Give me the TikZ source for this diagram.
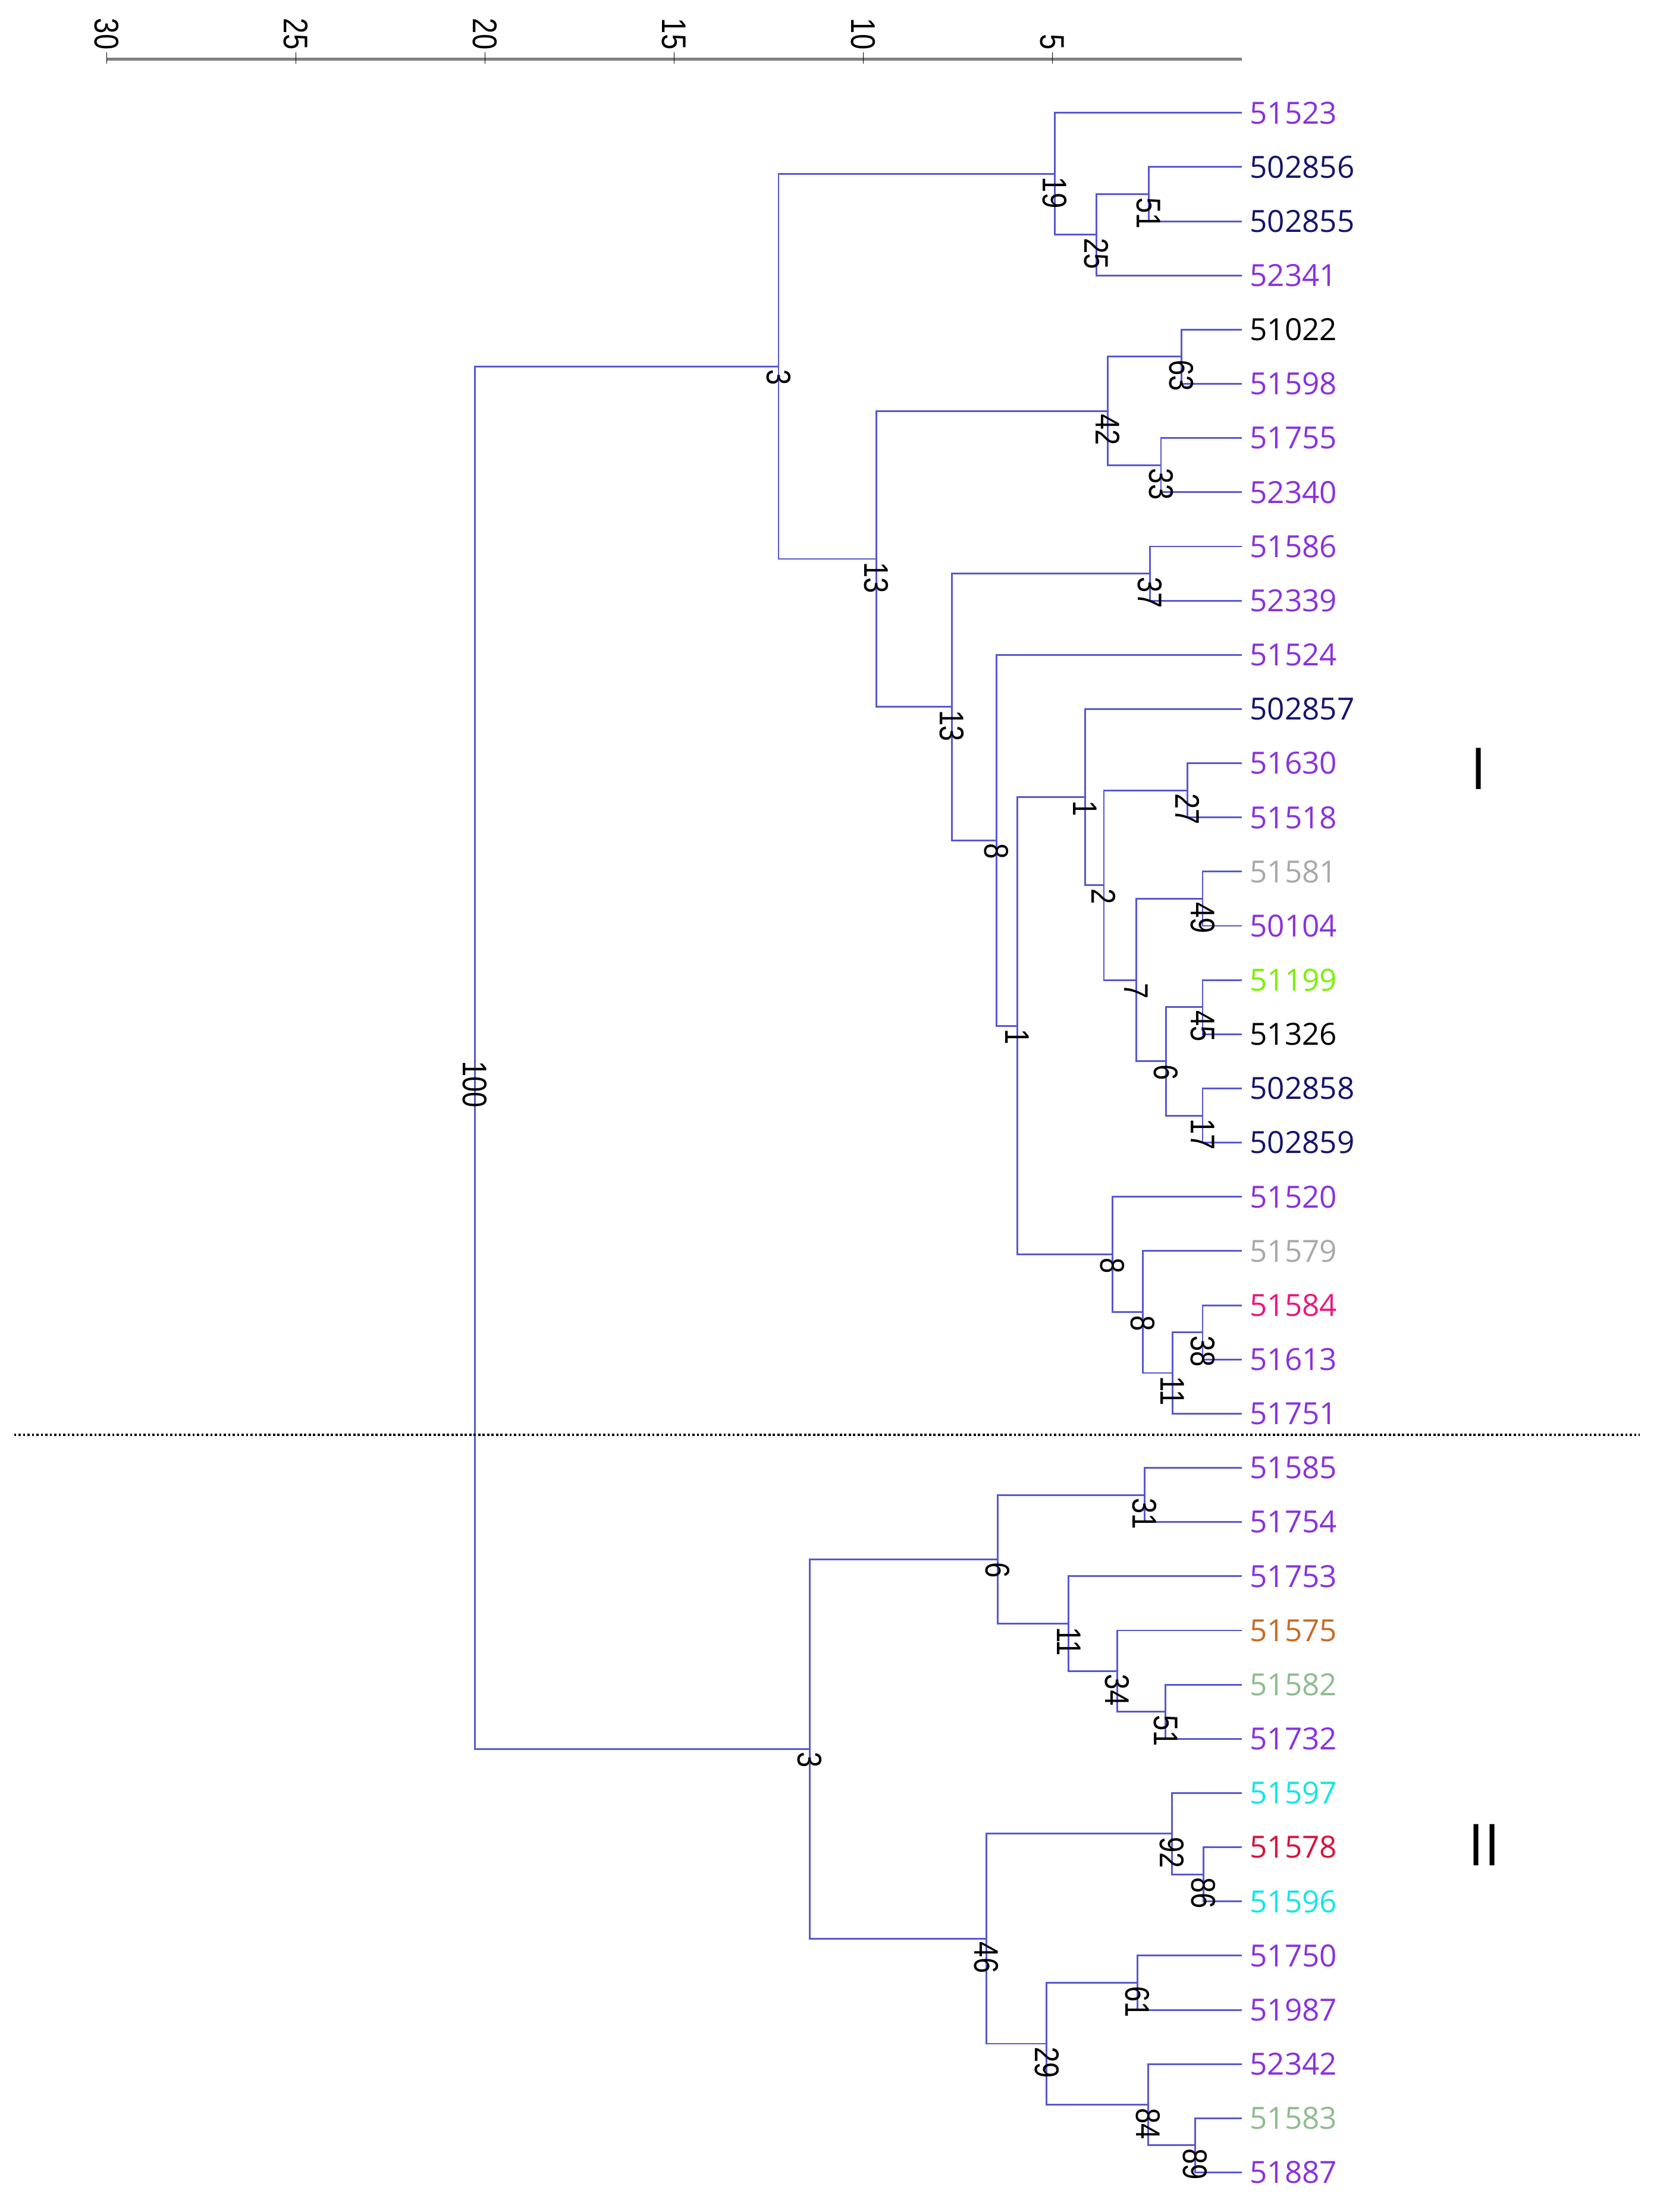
\documentclass[tikz,border=0pt]{standalone}
\usepackage{fontspec}
\setmainfont{Open Sans}
\newfontfamily\bootfont[FakeStretch=0.82]{Liberation Sans}
\definecolor{cbranch}{RGB}{88,88,210}
\definecolor{cpurple}{RGB}{138,50,220}
\definecolor{cnavy}{RGB}{20,20,110}
\definecolor{cgray}{RGB}{169,169,169}
\definecolor{clime}{RGB}{124,240,0}
\definecolor{cpink}{RGB}{236,24,128}
\definecolor{cchoc}{RGB}{200,108,40}
\definecolor{csage}{RGB}{143,188,143}
\definecolor{ccyan}{RGB}{20,230,230}
\definecolor{cred}{RGB}{215,20,60}
\definecolor{caxis}{RGB}{128,128,128}

\begin{document}
\begin{tikzpicture}[x=-0.5362cm, y=-0.7684cm,
  branch/.style={draw=cbranch, line width=0.7pt},
  leaf/.style={anchor=west, inner xsep=0.11cm, inner ysep=0pt, font=\fontsize{12.3}{14}\selectfont},
  boot/.style={rotate=-90, anchor=west, inner sep=0.04cm, font=\bootfont\fontsize{13.8}{15}\selectfont},
  axlab/.style={rotate=-90, anchor=east, inner sep=0pt, font=\bootfont\fontsize{13.8}{15}\selectfont},
  clade/.style={inner sep=0pt, font=\fontsize{23.3}{26}\selectfont}]
\useasboundingbox (32.82,-2.082) rectangle (-10.97,38.73);

\draw[caxis, line width=1.1pt] (30,-0.989) -- (0,-0.989);
\foreach \v in {5,10,...,30} {
  \draw[black, line width=0.4pt] (\v,-1.119) -- (\v,-0.911);
  \node[axlab] (t\v) at (\v,-1.158) {\v};
}

\node[leaf, text=cpurple] (s51523) at (0,0) {51523};
\node[leaf, text=cnavy] (s502856) at (0,1) {502856};
\node[leaf, text=cnavy] (s502855) at (0,2) {502855};
\node[leaf, text=cpurple] (s52341) at (0,3) {52341};
\node[leaf, text=black] (s51022) at (0,4) {51022};
\node[leaf, text=cpurple] (s51598) at (0,5) {51598};
\node[leaf, text=cpurple] (s51755) at (0,6) {51755};
\node[leaf, text=cpurple] (s52340) at (0,7) {52340};
\node[leaf, text=cpurple] (s51586) at (0,8) {51586};
\node[leaf, text=cpurple] (s52339) at (0,9) {52339};
\node[leaf, text=cpurple] (s51524) at (0,10) {51524};
\node[leaf, text=cnavy] (s502857) at (0,11) {502857};
\node[leaf, text=cpurple] (s51630) at (0,12) {51630};
\node[leaf, text=cpurple] (s51518) at (0,13) {51518};
\node[leaf, text=cgray] (s51581) at (0,14) {51581};
\node[leaf, text=cpurple] (s50104) at (0,15) {50104};
\node[leaf, text=clime] (s51199) at (0,16) {51199};
\node[leaf, text=black] (s51326) at (0,17) {51326};
\node[leaf, text=cnavy] (s502858) at (0,18) {502858};
\node[leaf, text=cnavy] (s502859) at (0,19) {502859};
\node[leaf, text=cpurple] (s51520) at (0,20) {51520};
\node[leaf, text=cgray] (s51579) at (0,21) {51579};
\node[leaf, text=cpink] (s51584) at (0,22) {51584};
\node[leaf, text=cpurple] (s51613) at (0,23) {51613};
\node[leaf, text=cpurple] (s51751) at (0,24) {51751};
\node[leaf, text=cpurple] (s51585) at (0,25) {51585};
\node[leaf, text=cpurple] (s51754) at (0,26) {51754};
\node[leaf, text=cpurple] (s51753) at (0,27) {51753};
\node[leaf, text=cchoc] (s51575) at (0,28) {51575};
\node[leaf, text=csage] (s51582) at (0,29) {51582};
\node[leaf, text=cpurple] (s51732) at (0,30) {51732};
\node[leaf, text=ccyan] (s51597) at (0,31) {51597};
\node[leaf, text=cred] (s51578) at (0,32) {51578};
\node[leaf, text=ccyan] (s51596) at (0,33) {51596};
\node[leaf, text=cpurple] (s51750) at (0,34) {51750};
\node[leaf, text=cpurple] (s51987) at (0,35) {51987};
\node[leaf, text=cpurple] (s52342) at (0,36) {52342};
\node[leaf, text=csage] (s51583) at (0,37) {51583};
\node[leaf, text=cpurple] (s51887) at (0,38) {51887};

\coordinate (n1) at (2.46,1.5);
\coordinate (n2) at (3.84,2.25);
\coordinate (n3) at (4.94,1.125);
\coordinate (n4) at (1.59,4.5);
\coordinate (n5) at (2.13,6.5);
\coordinate (n6) at (3.54,5.5);
\coordinate (n7) at (2.42,8.5);
\coordinate (n8) at (1.43,12.5);
\coordinate (n9) at (1.03,14.5);
\coordinate (n10) at (1.03,16.5);
\coordinate (n11) at (1.03,18.5);
\coordinate (n12) at (2.00,17.5);
\coordinate (n13) at (2.79,16);
\coordinate (n14) at (3.64,14.25);
\coordinate (n15) at (4.14,12.625);
\coordinate (n16) at (1.03,22.5);
\coordinate (n17) at (1.83,23.25);
\coordinate (n18) at (2.61,22.125);
\coordinate (n19) at (3.41,21.0625);
\coordinate (n20) at (5.93,16.84375);
\coordinate (n21) at (6.48,13.421875);
\coordinate (n22) at (7.66,10.9609);
\coordinate (n23) at (9.65,8.2305);
\coordinate (n24) at (12.24,4.6777);
\coordinate (n25) at (2.57,25.5);
\coordinate (n26) at (2.01,29.5);
\coordinate (n27) at (3.29,28.75);
\coordinate (n28) at (4.57,27.875);
\coordinate (n29) at (6.45,26.6875);
\coordinate (n30) at (1.01,32.5);
\coordinate (n31) at (1.84,31.75);
\coordinate (n32) at (2.75,34.5);
\coordinate (n33) at (1.23,37.5);
\coordinate (n34) at (2.47,36.75);
\coordinate (n35) at (5.15,35.625);
\coordinate (n36) at (6.75,33.6875);
\coordinate (n37) at (11.42,30.1875);
\coordinate (n38) at (20.27,17.4326);

\draw[branch] (n1) |- (s502856.west) (n1) |- (s502855.west);
\draw[branch] (n2) |- (n1) (n2) |- (s52341.west);
\draw[branch] (n3) |- (s51523.west) (n3) |- (n2);
\draw[branch] (n4) |- (s51022.west) (n4) |- (s51598.west);
\draw[branch] (n5) |- (s51755.west) (n5) |- (s52340.west);
\draw[branch] (n6) |- (n4) (n6) |- (n5);
\draw[branch] (n7) |- (s51586.west) (n7) |- (s52339.west);
\draw[branch] (n8) |- (s51630.west) (n8) |- (s51518.west);
\draw[branch] (n9) |- (s51581.west) (n9) |- (s50104.west);
\draw[branch] (n10) |- (s51199.west) (n10) |- (s51326.west);
\draw[branch] (n11) |- (s502858.west) (n11) |- (s502859.west);
\draw[branch] (n12) |- (n10) (n12) |- (n11);
\draw[branch] (n13) |- (n9) (n13) |- (n12);
\draw[branch] (n14) |- (n8) (n14) |- (n13);
\draw[branch] (n15) |- (s502857.west) (n15) |- (n14);
\draw[branch] (n16) |- (s51584.west) (n16) |- (s51613.west);
\draw[branch] (n17) |- (n16) (n17) |- (s51751.west);
\draw[branch] (n18) |- (s51579.west) (n18) |- (n17);
\draw[branch] (n19) |- (s51520.west) (n19) |- (n18);
\draw[branch] (n20) |- (n15) (n20) |- (n19);
\draw[branch] (n21) |- (s51524.west) (n21) |- (n20);
\draw[branch] (n22) |- (n7) (n22) |- (n21);
\draw[branch] (n23) |- (n6) (n23) |- (n22);
\draw[branch] (n24) |- (n3) (n24) |- (n23);
\draw[branch] (n25) |- (s51585.west) (n25) |- (s51754.west);
\draw[branch] (n26) |- (s51582.west) (n26) |- (s51732.west);
\draw[branch] (n27) |- (s51575.west) (n27) |- (n26);
\draw[branch] (n28) |- (s51753.west) (n28) |- (n27);
\draw[branch] (n29) |- (n25) (n29) |- (n28);
\draw[branch] (n30) |- (s51578.west) (n30) |- (s51596.west);
\draw[branch] (n31) |- (s51597.west) (n31) |- (n30);
\draw[branch] (n32) |- (s51750.west) (n32) |- (s51987.west);
\draw[branch] (n33) |- (s51583.west) (n33) |- (s51887.west);
\draw[branch] (n34) |- (s52342.west) (n34) |- (n33);
\draw[branch] (n35) |- (n32) (n35) |- (n34);
\draw[branch] (n36) |- (n31) (n36) |- (n35);
\draw[branch] (n37) |- (n29) (n37) |- (n36);
\draw[branch] (n38) |- (n24) (n38) |- (n37);

\node[boot] (b1) at (n1) {51};
\node[boot] (b2) at (n2) {25};
\node[boot] (b3) at (n3) {19};
\node[boot] (b4) at (n4) {63};
\node[boot] (b5) at (n5) {33};
\node[boot] (b6) at (n6) {42};
\node[boot] (b7) at (n7) {37};
\node[boot] (b8) at (n8) {27};
\node[boot] (b9) at (n9) {49};
\node[boot] (b10) at (n10) {45};
\node[boot] (b11) at (n11) {17};
\node[boot] (b12) at (n12) {6};
\node[boot] (b13) at (n13) {7};
\node[boot] (b14) at (n14) {2};
\node[boot] (b15) at (n15) {1};
\node[boot] (b16) at (n16) {38};
\node[boot] (b17) at (n17) {11};
\node[boot] (b18) at (n18) {8};
\node[boot] (b19) at (n19) {8};
\node[boot] (b20) at (n20) {1};
\node[boot] (b21) at (n21) {8};
\node[boot] (b22) at (n22) {13};
\node[boot] (b23) at (n23) {13};
\node[boot] (b24) at (n24) {3};
\node[boot] (b25) at (n25) {31};
\node[boot] (b26) at (n26) {51};
\node[boot] (b27) at (n27) {34};
\node[boot] (b28) at (n28) {11};
\node[boot] (b29) at (n29) {6};
\node[boot] (b30) at (n30) {86};
\node[boot] (b31) at (n31) {92};
\node[boot] (b32) at (n32) {61};
\node[boot] (b33) at (n33) {89};
\node[boot] (b34) at (n34) {84};
\node[boot] (b35) at (n35) {29};
\node[boot] (b36) at (n36) {46};
\node[boot] (b37) at (n37) {3};
\node[boot] (b38) at (n38) {100};

\draw[black, line width=1.1pt, dash pattern=on 0.9pt off 0.9pt] (32.45,24.39) -- (-10.52,24.39);

\node[clade] (cI) at (-6.27,12.10) {I};
\node[clade] (cII) at (-6.42,31.96) {II};
\end{tikzpicture}
\end{document}
